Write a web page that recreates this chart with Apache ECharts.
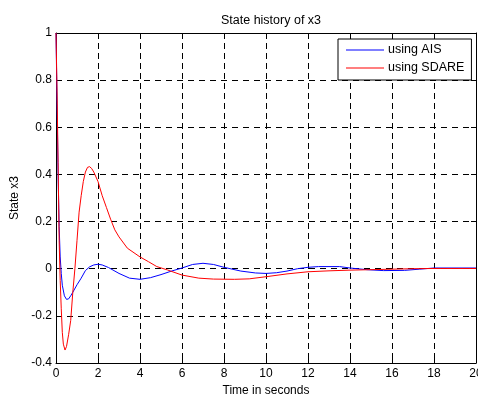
<!DOCTYPE html>
<html>
<head>
<meta charset="utf-8">
<script src="https://cdn.jsdelivr.net/npm/echarts@6/dist/echarts.min.js"></script>
<style>html,body{margin:0;padding:0;background:#fff;}#c{width:478px;height:397px;}</style>
</head>
<body>
<div id="c"></div>
<script>
var xTicks = [0, 2, 4, 6, 8, 10, 12, 14, 16, 18, 20];
var yTicks = [-0.4, -0.2, 0, 0.2, 0.4, 0.6, 0.8, 1];

var tAIS = [0, 0.05, 0.1, 0.15, 0.2, 0.25, 0.3, 0.4, 0.5, 0.6, 0.7, 0.8, 1.0, 1.2, 1.4, 1.6, 1.8, 2.0, 2.2, 2.5, 3.0, 3.5, 4.0, 4.5, 5.0, 5.5, 6.0, 6.5, 7.0, 7.5, 8.0, 8.8, 9.5, 10.0, 10.5, 11.0, 11.5, 12.0, 12.5, 13.5, 14.0, 14.8, 15.6, 16.6, 17.3, 18, 19, 20];
var xAIS = [1, 0.7, 0.4, 0.18, 0.05, -0.02, -0.07, -0.115, -0.13, -0.128, -0.115, -0.1, -0.068, -0.04, -0.008, 0.008, 0.016, 0.019, 0.016, 0.005, -0.02, -0.04, -0.045, -0.038, -0.025, -0.01, 0.003, 0.018, 0.023, 0.018, 0.006, -0.01, -0.018, -0.02, -0.017, -0.01, 0.0, 0.006, 0.009, 0.009, 0.003, -0.004, -0.008, -0.007, -0.002, 0.003, 0.003, 0.003];

var tSDARE = [0, 0.05, 0.1, 0.15, 0.2, 0.25, 0.3, 0.35, 0.43, 0.5, 0.6, 0.7, 0.8, 0.9, 1.0, 1.1, 1.2, 1.3, 1.4, 1.5, 1.6, 1.7, 1.8, 2.0, 2.2, 2.4, 2.6, 2.8, 3.0, 3.4, 4.0, 4.4, 4.8, 5.3, 6.0, 6.8, 7.5, 8.5, 9.2, 10, 11, 12, 13, 14, 15, 16, 17, 18, 20];
var xSDARE = [1, 0.75, 0.45, 0.12, -0.05, -0.17, -0.27, -0.32, -0.345, -0.33, -0.28, -0.22, -0.1, 0.0, 0.12, 0.24, 0.31, 0.37, 0.41, 0.43, 0.433, 0.425, 0.41, 0.37, 0.31, 0.26, 0.21, 0.165, 0.135, 0.087, 0.05, 0.03, 0.009, -0.005, -0.027, -0.04, -0.044, -0.045, -0.043, -0.034, -0.022, -0.013, -0.009, -0.006, -0.004, -0.002, 0, 0.001, 0.001];

var seriesNames = ['using AIS', 'using SDARE'];

function pairs(t, v) { return t.map(function (x, i) { return [x, v[i]]; }); }

var font = 'Arial, "Liberation Sans", sans-serif';
var chart = echarts.init(document.getElementById('c'), null, { renderer: 'canvas' });

function xAxisCfg(pos, show) {
  return {
    type: 'value', position: pos, min: xTicks[0], max: xTicks[xTicks.length - 1], interval: 2,
    name: show ? 'Time in seconds' : '', nameLocation: 'middle', nameGap: 21,
    nameTextStyle: { color: '#000', fontSize: 12, fontFamily: font },
    axisLine: { show: true, onZero: false, lineStyle: { color: '#000', width: 1 } },
    axisTick: { show: true, inside: true, length: 5, lineStyle: { color: '#000' } },
    axisLabel: { show: show, color: '#000', fontSize: 12, fontFamily: font, margin: 5, hideOverlap: false },
    splitLine: { show: show, lineStyle: { color: '#000', type: [6, 4], width: 1 } }
  };
}
function yAxisCfg(pos, show) {
  return {
    type: 'value', position: pos, min: yTicks[0], max: yTicks[yTicks.length - 1], interval: 0.2,
    name: show ? 'State x3' : '', nameLocation: 'middle', nameGap: 30, nameRotate: 90,
    nameTextStyle: { color: '#000', fontSize: 12, fontFamily: font },
    axisLine: { show: true, onZero: false, lineStyle: { color: '#000', width: 1 } },
    axisTick: { show: true, inside: true, length: 5, lineStyle: { color: '#000' } },
    axisLabel: { show: show, color: '#000', fontSize: 12, fontFamily: font, margin: 4,
      formatter: function (v) { return String(Math.round(v * 10) / 10); } },
    splitLine: { show: show, lineStyle: { color: '#000', type: [6, 5], width: 1 } }
  };
}

chart.setOption({
  animation: false,
  backgroundColor: '#fff',
  title: {
    text: 'State history of x3', left: 266, top: 9, textAlign: 'center',
    textStyle: { color: '#000', fontSize: 12.5, fontWeight: 'normal', fontFamily: font }
  },
  legend: {
    data: seriesNames, orient: 'vertical', left: 338, top: 39,
    padding: [4, 7, 5, 8], itemWidth: 38, itemHeight: 1, itemGap: 4, icon: 'rect',
    backgroundColor: '#fff', borderColor: '#000', borderWidth: 1,
    textStyle: { color: '#000', fontSize: 12.5, fontFamily: font, lineHeight: 14, height: 14, padding: [0, 0, 0, -1] }
  },
  grid: { left: 56, right: 2, top: 33, bottom: 34, outerBoundsMode: 'none', containLabel: false },
  xAxis: [xAxisCfg('bottom', true), xAxisCfg('top', false)],
  yAxis: [yAxisCfg('left', true), yAxisCfg('right', false)],
  series: [
    { name: seriesNames[0], type: 'line', data: pairs(tAIS, xAIS), showSymbol: false, symbol: 'none',
      lineStyle: { color: '#0000ff', width: 1 }, itemStyle: { color: '#0000ff' }, z: 3 },
    { name: seriesNames[1], type: 'line', data: pairs(tSDARE, xSDARE), showSymbol: false, symbol: 'none',
      lineStyle: { color: '#ff0000', width: 1 }, itemStyle: { color: '#ff0000' }, z: 4 }
  ]
});
</script>
</body>
</html>
